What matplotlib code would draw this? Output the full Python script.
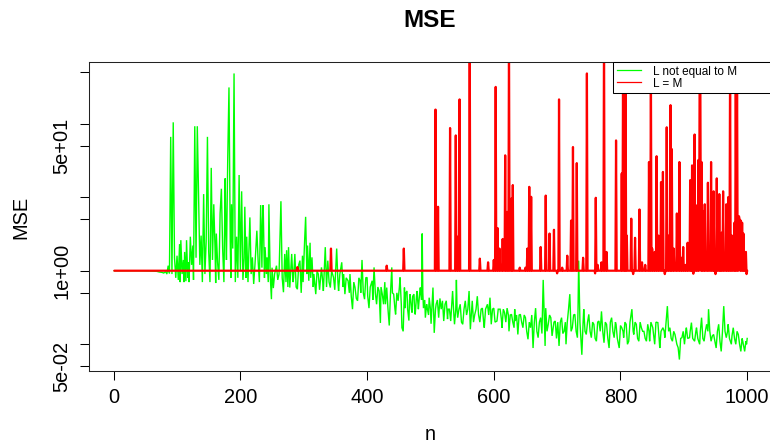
import numpy as np
import matplotlib
matplotlib.use("Agg")
import matplotlib.pyplot as plt
from matplotlib.lines import Line2D

plt.rcParams['font.family'] = ['Liberation Sans', 'DejaVu Sans']

title = "MSE"
xlabel = "n"
ylabel = "MSE"
series_labels = ["L not equal to M", "L = M"]
x_ticks = [0, 200, 400, 600, 800, 1000]
y_ticks = [0.05, 0.1, 0.5, 1, 5, 10, 50, 100, 500]
y_tick_labels = ["5e-02", "", "", "1e+00", "", "", "5e+01", "", ""]

n_total = 1000

# green series "L not equal to M"
green_n = [
    1, 20, 40, 60, 68, 72, 76, 79, 82, 84,
    86, 88, 90, 92, 94, 96, 98, 100, 102, 104,
    105, 106, 108, 110, 111, 112, 114, 115, 117, 118,
    119, 121, 123, 125, 126, 128, 130, 132, 134, 136,
    138, 140, 142, 144, 146, 148, 150, 152, 154, 156,
    158, 160, 161, 162, 164, 166, 168, 170, 172, 174,
    176, 177, 178, 180, 182, 184, 185, 186, 188, 190,
    192, 194, 196, 198, 200, 202, 204, 206, 207, 209,
    210, 212, 215, 217, 219, 221, 223, 226, 228, 230,
    232, 234, 235, 236, 238, 239, 241, 242, 244, 245,
    247, 249, 250, 252, 254, 257, 259, 261, 264, 266,
    268, 270, 272, 273, 275, 276, 278, 281, 283, 284,
    286, 288, 290, 292, 294, 296, 298, 299, 301, 303,
    305, 306, 308, 310, 311, 313, 315, 316, 319, 321,
    323, 325, 328, 330, 331, 333, 334, 336, 338, 340,
    342, 344, 347, 349, 352, 354, 355, 357, 360, 362,
    363, 365, 367, 370, 372, 373, 375, 377, 379, 381,
    383, 385, 387, 389, 390, 392, 394, 396, 398, 400,
    401, 403, 405, 408, 409, 411, 413, 415, 417, 419,
    421, 422, 424, 426, 428, 429, 431, 433, 435, 437,
    439, 440, 442, 444, 445, 447, 449, 451, 452, 454,
    455, 457, 459, 460, 461, 463, 464, 466, 467, 468,
    470, 471, 472, 474, 475, 476, 478, 479, 480, 481,
    483, 484, 486, 487, 488, 489, 491, 492, 494, 495,
    497, 498, 500, 501, 503, 504, 505, 506, 508, 509,
    511, 513, 515, 517, 519, 521, 523, 525, 527, 528,
    530, 532, 534, 535, 537, 538, 540, 541, 542, 543,
    545, 547, 549, 551, 553, 555, 557, 559, 561, 562,
    563, 565, 566, 568, 570, 572, 574, 576, 578, 580,
    582, 584, 585, 587, 590, 592, 594, 596, 598, 600,
    602, 605, 607, 610, 612, 613, 615, 617, 619, 621,
    623, 624, 626, 628, 630, 632, 633, 634, 636, 638,
    640, 642, 644, 646, 648, 650, 652, 654, 656, 658,
    660, 662, 664, 666, 668, 670, 672, 674, 676, 678,
    680, 681, 682, 684, 686, 688, 690, 692, 693, 695,
    697, 699, 701, 703, 705, 707, 709, 711, 713, 714,
    716, 718, 720, 722, 724, 726, 728, 730, 732, 733,
    734, 736, 739, 741, 742, 744, 746, 748, 750, 752,
    754, 756, 758, 760, 762, 764, 766, 768, 770, 772,
    774, 776, 778, 780, 782, 784, 786, 788, 790, 792,
    793, 795, 798, 800, 802, 804, 805, 807, 809, 811,
    813, 815, 818, 820, 821, 823, 825, 827, 829, 831,
    833, 835, 837, 839, 841, 843, 845, 846, 848, 851,
    853, 854, 856, 859, 861, 862, 864, 867, 869, 870,
    872, 874, 876, 878, 880, 882, 884, 886, 888, 889,
    891, 893, 895, 897, 899, 901, 903, 904, 906, 909,
    910, 912, 914, 917, 919, 920, 922, 925, 926, 928,
    930, 932, 934, 936, 938, 939, 941, 943, 945, 947,
    949, 951, 953, 955, 957, 959, 961, 963, 965, 967,
    969, 970, 972, 975, 976, 978, 980, 982, 984, 986,
    988, 990, 992, 993, 995, 996, 998, 999, 1000,
]
green_v = [
    1.0, 1.0, 1.0, 0.99, 0.98, 0.96, 0.95, 0.93, 0.97, 0.9,
    1.17, 0.92, 66, 0.9, 104, 1.5, 0.8, 1.6, 0.75, 2.3,
    0.7, 2.6, 0.9, 1.4, 0.7, 1.8, 0.72, 2.6, 0.8, 1.3,
    0.7, 2.9, 1.2, 2.2, 0.75, 92, 1.5, 92, 10, 1.2,
    3.0, 0.7, 11, 0.9, 2.5, 66, 1.8, 0.7, 25, 1.4,
    8.0, 2.0, 0.68, 3.2, 1.3, 0.75, 6.0, 13, 2.0, 0.7,
    18, 3.5, 1.4, 32, 310, 2.5, 0.8, 8, 2.0, 480,
    0.7, 2.9, 0.8, 20, 1.0, 12, 0.75, 1.5, 7.4, 0.8,
    2.9, 0.7, 5.3, 0.9, 1.52, 0.66, 1.2, 3.5, 1.37, 0.7,
    7.8, 1.1, 5.0, 7.8, 0.8, 2.09, 0.9, 1.52, 0.7, 8,
    0.9, 0.41, 1.1, 0.58, 0.9, 1.17, 0.75, 0.9, 8.8, 0.8,
    0.51, 1.69, 0.7, 1.9, 0.6, 2.09, 0.59, 1.69, 0.7, 0.81,
    1.69, 0.6, 0.56, 1.2, 1.37, 0.5, 1.6, 0.7, 2.09, 5.4,
    0.9, 2.2, 0.73, 2.4, 0.8, 1.52, 0.6, 0.9, 0.48, 1.0,
    0.9, 0.55, 1.11, 0.7, 0.53, 1.3, 2.09, 0.6, 1.37, 0.7,
    0.59, 1.0, 0.81, 0.55, 2.0, 0.7, 0.53, 0.9, 1.3, 0.6,
    0.9, 0.48, 0.8, 0.73, 0.5, 0.9, 0.45, 0.3, 0.7, 0.59,
    0.42, 0.39, 0.8, 0.73, 0.5, 1.4, 0.5, 0.41, 0.8, 0.81,
    0.45, 0.31, 0.6, 0.73, 0.4, 1.11, 0.5, 0.35, 0.6, 0.53,
    0.195, 0.6, 0.48, 0.35, 0.7, 0.35, 0.59, 0.3, 0.18, 0.5,
    1.11, 0.5, 0.48, 0.3, 0.255, 0.5, 0.39, 0.6, 0.81, 0.35,
    0.168, 0.15, 0.59, 0.31, 0.5, 0.53, 0.3, 0.21, 0.4, 0.48,
    0.3, 0.27, 0.45, 0.48, 0.3, 0.255, 0.45, 0.53, 0.38, 0.3,
    0.5, 0.59, 0.4, 3.2, 0.5, 0.31, 0.4, 0.23, 0.35, 0.31,
    0.25, 0.43, 0.3, 0.19, 0.4, 0.59, 0.3, 0.143, 0.3, 0.35,
    0.4, 0.23, 0.42, 0.3, 0.39, 0.207, 0.35, 0.39, 0.22, 0.3,
    0.3, 0.207, 0.4, 0.53, 0.25, 0.187, 0.3, 0.75, 0.3, 0.23,
    0.3, 0.35, 0.2, 0.187, 0.3, 0.39, 0.25, 0.3, 0.53, 0.3,
    0.16, 0.3, 0.39, 0.2, 0.255, 0.3, 0.45, 0.25, 0.2, 0.3,
    0.31, 0.2, 0.168, 0.3, 0.35, 0.25, 0.43, 0.187, 0.3, 0.31,
    0.2, 0.207, 0.3, 0.3, 0.22, 0.168, 0.3, 0.27, 0.2, 0.31,
    0.25, 0.15, 0.25, 0.255, 0.2, 0.168, 0.3, 0.207, 0.25, 0.136,
    0.25, 0.255, 0.2, 0.168, 0.25, 0.23, 0.15, 0.117, 0.2, 0.168,
    0.25, 0.089, 0.2, 0.31, 0.15, 0.123, 0.2, 0.23, 0.14, 0.75,
    0.2, 0.095, 0.31, 0.15, 0.187, 0.25, 0.23, 0.13, 0.15, 0.2,
    0.207, 0.12, 0.2, 0.095, 0.2, 0.23, 0.14, 0.15, 0.2, 0.1,
    0.2, 0.3, 0.48, 0.15, 0.168, 0.25, 0.255, 0.15, 0.123, 0.3,
    1.37, 0.2, 0.072, 0.2, 0.3, 0.15, 0.136, 0.2, 0.255, 0.15,
    0.123, 0.2, 0.187, 0.12, 0.11, 0.2, 0.207, 0.15, 0.28, 0.15,
    0.105, 0.2, 0.187, 0.12, 0.089, 0.2, 0.23, 0.15, 0.123, 0.2,
    0.187, 0.12, 0.089, 0.18, 0.168, 0.15, 0.123, 0.2, 0.187, 0.1,
    0.11, 0.2, 0.3, 0.15, 0.136, 0.2, 0.187, 0.12, 0.11, 0.2,
    0.168, 0.15, 0.15, 0.12, 0.11, 0.187, 0.15, 0.11, 0.2, 0.168,
    0.12, 0.1, 0.2, 0.197, 0.12, 0.089, 0.15, 0.168, 0.15, 0.123,
    0.2, 0.33, 0.15, 0.168, 0.12, 0.11, 0.15, 0.136, 0.11, 0.1,
    0.09, 0.062, 0.12, 0.123, 0.15, 0.1, 0.15, 0.168, 0.12, 0.123,
    0.15, 0.197, 0.12, 0.11, 0.15, 0.168, 0.12, 0.1, 0.15, 0.23,
    0.12, 0.11, 0.15, 0.187, 0.15, 0.3, 0.15, 0.11, 0.13, 0.136,
    0.11, 0.089, 0.15, 0.187, 0.11, 0.08, 0.15, 0.33, 0.15, 0.123,
    0.15, 0.187, 0.12, 0.1, 0.13, 0.168, 0.12, 0.1, 0.15, 0.136,
    0.1, 0.08, 0.12, 0.11, 0.09, 0.08, 0.11, 0.1, 0.12,
]

# red series "L = M": stays at 1 except at these n
red_spike_n = [
    290, 343, 431, 458, 508, 512, 531, 540, 543, 546,
    562, 578, 591, 600, 603, 606, 609, 614, 618, 621,
    624, 628, 630, 641, 650, 653, 656, 659, 674, 682,
    688, 695, 700, 703, 708, 716, 722, 725, 731, 741,
    747, 760, 761, 764, 770, 774, 778, 793, 802, 804,
    806, 808, 810, 817, 820, 823, 830, 834, 839, 845,
    848, 850, 854, 857, 860, 864, 867, 870, 873, 876,
    879, 881, 884, 889, 893, 896, 899, 903, 906, 910,
    913, 915, 917, 920, 923, 925, 926, 928, 930, 933,
    938, 943, 947, 950, 952, 956, 958, 960, 962, 967,
    970, 973, 976, 980, 982, 984, 987, 988, 990, 992,
    994, 996, 998, 999,
]
red_spike_v = [
    1.12, 2.0, 1.17, 2.0, 155, 7.4, 87, 69, 2.9, 213,
    2000, 1.46, 1.3, 1.4, 315, 3.8, 2.0, 2.7, 37, 6.3,
    2000, 9.6, 14.6, 1.1, 1.1, 2.0, 13.8, 10.1, 2.1, 10.5,
    3.2, 3.6, 0.92, 213, 1.1, 1.6, 4.8, 48, 29, 1.5,
    480, 0.92, 9.8, 1.2, 1.3, 2000, 1.8, 59, 21, 400,
    700, 600, 3.0, 5.1, 0.9, 2.8, 6.8, 1.3, 1.2, 30,
    600, 2.0, 1.8, 36, 3.0, 16, 22, 0.9, 89, 3.0,
    178, 45, 2.0, 6.0, 30, 1.5, 2.1, 1.2, 2.4, 17,
    27, 0.91, 71, 7.7, 32, 800, 600, 30, 6.5, 8.0,
    15.7, 30, 12, 0.9, 18, 11, 2.0, 3.3, 12, 8.0,
    10, 700, 3.0, 4.5, 700, 700, 5.5, 5.0, 4.8, 4.5,
    3.2, 1.5, 1.8, 0.9,
]

n = np.arange(1, n_total + 1)
red_v = np.ones(n_total)
red_v[np.array(red_spike_n) - 1] = red_spike_v

W, H = 770, 445
fig = plt.figure(figsize=(W / 100, H / 100), dpi=100)
left, right, top, bottom = 89, 772.5, 62, 371
ax = fig.add_axes([left / W, 1 - bottom / H, (right - left) / W, (bottom - top) / H])

ax.plot(green_n, green_v, color="#00FF00", lw=1.0, solid_joinstyle="miter")
ax.plot(n, red_v, color="#FF0000", lw=1.6, solid_capstyle="round")

ax.set_yscale("log")
# R-style 4% padding based on the first series
lo, hi = np.log10(min(green_v)), np.log10(max(green_v))
pad = 0.04 * (hi - lo)
ax.set_ylim(10 ** (lo - pad), 10 ** (hi + pad))
ax.set_xlim(1 - 0.04 * (n_total - 1), n_total + 0.04 * (n_total - 1))

ax.set_xticks(x_ticks)
ax.set_xticklabels([str(t) for t in x_ticks])
ax.set_yticks(y_ticks)
ax.set_yticklabels(y_tick_labels)
ax.minorticks_off()
ax.yaxis.set_minor_locator(matplotlib.ticker.NullLocator())
ax.tick_params(axis="both", direction="out", length=6.5, width=0.75, labelsize=14.4, color="black")
ax.tick_params(axis="x", pad=5.8)
ax.tick_params(axis="y", pad=6.0)
for lab in ax.get_yticklabels():
    lab.set_rotation(90)
    lab.set_va("center")
    lab.set_ha("right")
for sp in ax.spines.values():
    sp.set_linewidth(0.75)
    sp.set_color("#222222")

fig.text(430 / W, 1 - 27 / H, title, ha="center", va="baseline", fontsize=17.5, fontweight="bold")
fig.text(430 / W, 1 - 440 / H, xlabel, ha="center", va="baseline", fontsize=14.4)
fig.text(21 / W, 1 - 217 / H, ylabel, ha="center", va="center", rotation=90, fontsize=14.4)

handles = [Line2D([], [], color="#00FF00", lw=0.9), Line2D([], [], color="#FF0000", lw=0.9)]
x0 = (613 - left) / (right - left)
leg = ax.legend(handles, series_labels, loc="upper left", bbox_to_anchor=(x0, 0, 1 - x0 + 0.015, 1),
                mode="expand", borderaxespad=0, fontsize=8.5, frameon=True, fancybox=False,
                edgecolor="black", framealpha=1, handlelength=2.1, handletextpad=1.0,
                labelspacing=0.0, borderpad=0.3)
leg.get_frame().set_linewidth(0.75)

fig.savefig("out.png", dpi=100)
